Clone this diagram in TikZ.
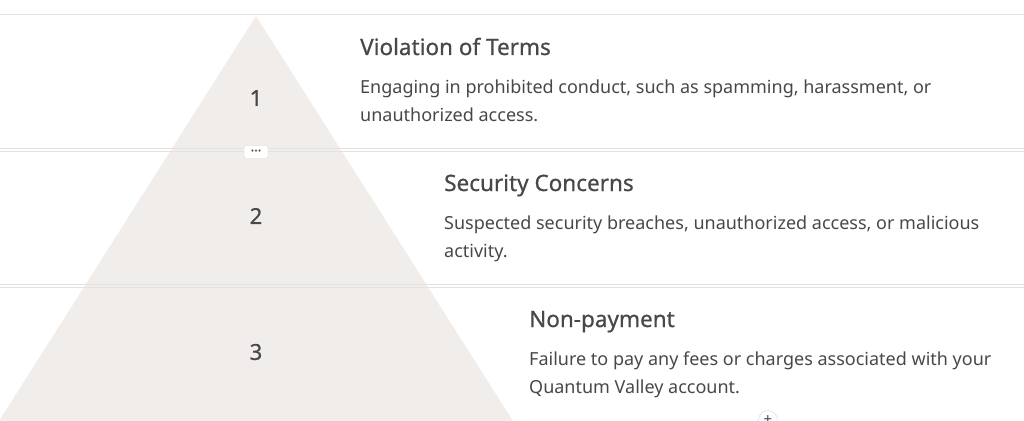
\documentclass[tikz,border=0pt]{standalone}
\usepackage{fontspec}
\setmainfont{Noto Sans}
\newfontfamily\headfont[FakeBold=0.7]{Noto Sans}
\usetikzlibrary{positioning}
\definecolor{pyrfill}{HTML}{F0EDEB}
\definecolor{rulegray}{HTML}{E2E2E2}
\definecolor{inkgray}{HTML}{484848}
\definecolor{btngray}{HTML}{D6D6D6}
\definecolor{plusblue}{HTML}{34495E}
\newcommand{\titlefont}{\headfont\fontsize{22.5}{26}\selectfont}
\newcommand{\bodyfont}{\fontsize{18}{28}\selectfont}

\begin{document}
\begin{tikzpicture}[
  x=1pt, y=-1pt,
  rule/.style={draw=rulegray, line width=1pt},
  heading/.style={anchor=base west, inner sep=0pt, font=\titlefont, text=inkgray},
  blurb/.style={anchor=base west, inner sep=0pt, font=\bodyfont, text=inkgray, align=left},
  level/.style={font=\headfont\fontsize{22}{26}\selectfont, text=inkgray},
  dots/.style={draw=btngray, fill=white, rounded corners=2pt, minimum width=24pt,
    minimum height=13pt, inner sep=0pt, font=\headfont\fontsize{13}{13}\selectfont, text=inkgray},
  plus/.style={circle, draw=btngray, fill=white, minimum size=19pt, inner sep=0pt,
    font=\fontsize{15}{15}\selectfont, text=plusblue}
  ]
\useasboundingbox (0,0) rectangle (1024,420);

% pyramid
\fill[pyrfill] (256,16) -- (513,421) -- (-1,421) -- cycle;

% section rules
\draw[rule] (0,15) -- (1024,15);
\draw[rule] (0,148) -- (1024,148);
\draw[rule] (0,151) -- (1024,151);
\draw[rule] (0,284) -- (1024,284);
\draw[rule] (0,287) -- (1024,287);

% levels
\node[level] (n1) at (256,98) {1};
\node[level] (n2) at (256,216) {2};
\node[level] (n3) at (256,352) {3};

% texts (blurb anchors sit on the last line)
\node[heading] (t1) at (360,55) {Violation of Terms};
\node[blurb] (b1) at (360,121) {Engaging in prohibited conduct, such as spamming, harassment, or\\unauthorized access.};

\node[heading] (t2) at (444,191) {Security Concerns};
\node[blurb] (b2) at (444,257) {Suspected security breaches, unauthorized access, or malicious\\activity.};

\node[heading] (t3) at (529,327) {Non-payment};
\node[blurb] (b3) at (529,393) {Failure to pay any fees or charges associated with your\\Quantum Valley account.};

% buttons
\node[dots] (more) at (256,152) {\raisebox{3pt}{...}};
\node[plus] (add) at (768,420) {+};
\end{tikzpicture}
\end{document}
